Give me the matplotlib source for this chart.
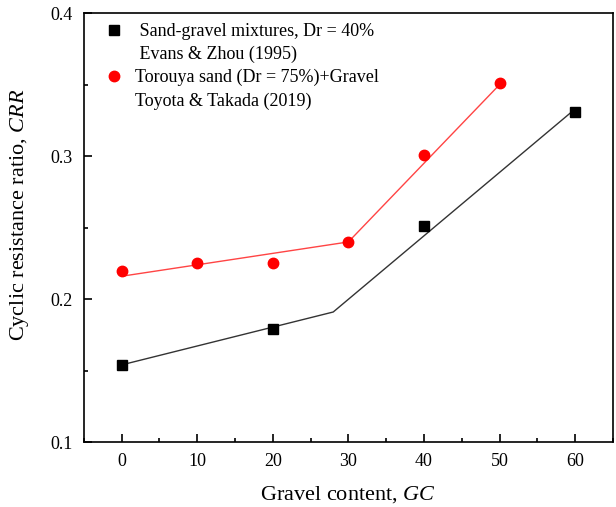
import matplotlib
matplotlib.use('Agg')
from matplotlib import pyplot as plt
from matplotlib.lines import Line2D
from matplotlib.ticker import MultipleLocator

plt.rcParams['font.family'] = ['Liberation Serif', 'DejaVu Serif']
plt.rcParams['mathtext.fontset'] = 'custom'
plt.rcParams['mathtext.it'] = 'Liberation Serif:italic'
plt.rcParams['mathtext.rm'] = 'Liberation Serif'

# measured points
gc_evans = [0, 20, 40, 60]
crr_evans = [0.154, 0.179, 0.251, 0.331]
gc_toyota = [0, 10, 20, 30, 40, 50]
crr_toyota = [0.220, 0.225, 0.225, 0.240, 0.301, 0.351]

# bilinear fit lines
fit_gc_evans = [0, 28, 60]
fit_crr_evans = [0.154, 0.191, 0.333]
fit_gc_toyota = [0, 30, 50]
fit_crr_toyota = [0.216, 0.240, 0.350]

legend_lines = [' Sand-gravel mixtures, Dr = 40%', ' Evans & Zhou (1995)',
                'Torouya sand (Dr = 75%)+Gravel', 'Toyota & Takada (2019)']

fig = plt.figure(figsize=(6.16, 5.07), dpi=100)
ax = fig.add_axes([0.136, 0.128, 0.859, 0.846])

ax.plot(fit_gc_evans, fit_crr_evans, color='#333333', lw=1.0)
ax.plot(fit_gc_toyota, fit_crr_toyota, color='#ff4444', lw=1.0)
sq, = ax.plot(gc_evans, crr_evans, 's', color='black', ms=7, ls='none')
ci, = ax.plot(gc_toyota, crr_toyota, 'o', color='red', ms=7.5, ls='none')

ax.set_xlim(-5, 65)
ax.set_ylim(0.1, 0.4)
ax.xaxis.set_major_locator(MultipleLocator(10))
ax.xaxis.set_minor_locator(MultipleLocator(5))
ax.yaxis.set_major_locator(MultipleLocator(0.1))
ax.yaxis.set_minor_locator(MultipleLocator(0.05))
ax.tick_params(which='both', direction='in', labelsize=13, width=1.2)
ax.tick_params(which='major', length=6, pad=8)
ax.tick_params(which='minor', length=3)
for s in ax.spines.values():
    s.set_linewidth(1.2)

ax.set_xlabel('Gravel content, $\\mathit{GC}$', fontsize=16, labelpad=10)
ax.set_ylabel('Cyclic resistance ratio, $\\mathit{CRR}$', fontsize=16)
ax.yaxis.set_label_coords(-0.1, 0.53)

blank = Line2D([], [], ls='none')
ax.legend([sq, blank, ci, blank], legend_lines, loc='upper left', frameon=False,
          fontsize=13, handletextpad=0.6, labelspacing=0.32,
          borderaxespad=0.3, handlelength=1.2, bbox_to_anchor=(0.012, 1.006))

fig.savefig('out.png', dpi=100)
